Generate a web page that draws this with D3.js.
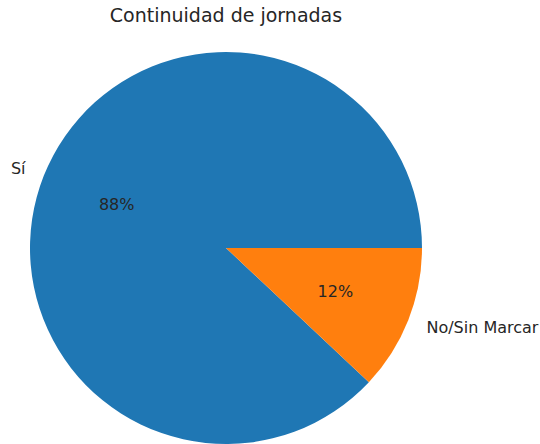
<!DOCTYPE html>
<html>
<head>
<meta charset="utf-8">
<script src="https://cdn.jsdelivr.net/npm/d3@7"></script>
<style>
  body { margin: 0; background: #fff; }
  text { font-family: "DejaVu Sans", sans-serif; fill: #262626; }
</style>
</head>
<body>
<div id="chart"></div>
<script>
const width = 540
const height = 444

// data
const categories = ["Sí", "No/Sin Marcar"]
const values = [88, 12]
const colors = ["#1f77b4", "#ff7f0e"]

const cx = 226, cy = 248, radius = 196

const svg = d3.select("#chart").append("svg")
    .attr("width", width)
    .attr("height", height)

// title
svg.append("text")
    .attr("x", cx)
    .attr("y", 22)
    .attr("text-anchor", "middle")
    .attr("font-size", "19px")
    .text("Continuidad de jornadas")

const data = categories.map((c, i) => ({ name: c, value: values[i] }))

// matplotlib style: start at 3 o'clock and go counterclockwise
const pie = d3.pie()
    .sort(null)
    .value(d => d.value)
    .startAngle(Math.PI / 2)
    .endAngle(Math.PI / 2 - 2 * Math.PI)

const arcs = pie(data)
const arc = d3.arc().innerRadius(0).outerRadius(radius)
const total = d3.sum(values)

const g = svg.append("g").attr("transform", `translate(${cx},${cy})`)

g.selectAll("path")
    .data(arcs)
    .enter()
    .append("path")
    .attr("d", arc)
    .attr("fill", (d, i) => colors[i])

// position at a fraction of the radius along the middle angle
function pos(d, f) {
    const a = (d.startAngle + d.endAngle) / 2
    return [Math.sin(a) * radius * f, -Math.cos(a) * radius * f]
}

// category labels
g.selectAll(".lbl")
    .data(arcs)
    .enter()
    .append("text")
    .attr("class", "lbl")
    .attr("x", d => pos(d, 1.1)[0])
    .attr("y", d => pos(d, 1.1)[1])
    .attr("dy", "0.35em")
    .attr("text-anchor", d => pos(d, 1.1)[0] > 0 ? "start" : "end")
    .attr("font-size", "16px")
    .text(d => d.data.name)

// percentage labels
g.selectAll(".pct")
    .data(arcs)
    .enter()
    .append("text")
    .attr("class", "pct")
    .attr("x", d => pos(d, 0.6)[0])
    .attr("y", d => pos(d, 0.6)[1])
    .attr("dy", "0.35em")
    .attr("text-anchor", "middle")
    .attr("font-size", "16px")
    .text(d => Math.round(d.data.value / total * 100) + "%")
</script>
</body>
</html>
